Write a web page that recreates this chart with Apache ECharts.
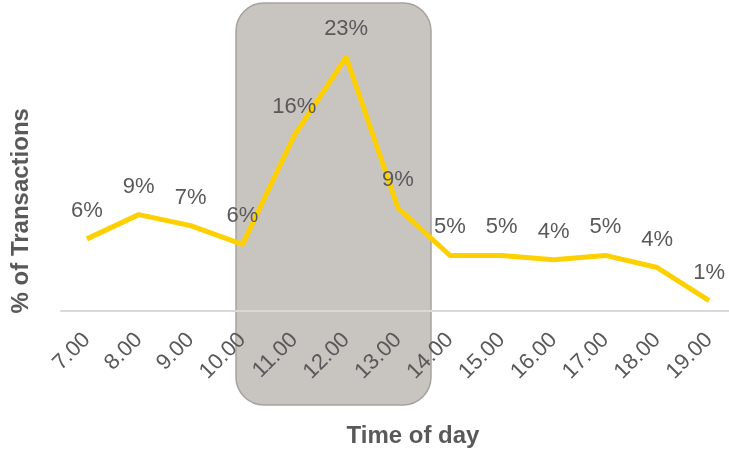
<!DOCTYPE html>
<html>
<head>
<meta charset="utf-8">
<script src="https://cdn.jsdelivr.net/npm/echarts@6/dist/echarts.min.js"></script>
<style>
html,body{margin:0;padding:0;background:#fff;}
#chart{width:729px;height:450px;}
</style>
</head>
<body>
<div id="chart"></div>
<script>
const categories = ['7.00','8.00','9.00','10.00','11.00','12.00','13.00','14.00','15.00','16.00','17.00','18.00','19.00'];
const shareValues = [6.5, 8.7, 7.7, 6.0, 15.9, 23.0, 9.3, 5.0, 5.0, 4.6, 5.0, 3.9, 0.9];
const shareLabels = ['6%','9%','7%','6%','16%','23%','9%','5%','5%','4%','5%','4%','1%'];

const FONT = '"Liberation Sans", Arial, sans-serif';
const chart = echarts.init(document.getElementById('chart'), null, {renderer: 'canvas'});
chart.setOption({
  animation: false,
  backgroundColor: '#ffffff',
  grid: {left: 61, right: -6, top: 35, bottom: 139.5, containLabel: false, outerBoundsMode: 'none'},
  graphic: [{
    type: 'rect',
    z: -10,
    shape: {x: 236, y: 3, width: 195, height: 402, r: 28},
    style: {fill: '#c8c4c0', stroke: '#a6a29e', lineWidth: 1.5}
  }],
  xAxis: {
    type: 'category',
    data: categories,
    boundaryGap: true,
    name: 'Time of day',
    nameLocation: 'middle',
    nameGap: 114,
    nameMoveOverlap: false,
    nameTextStyle: {fontFamily: FONT, fontSize: 24, fontWeight: 'bold', color: '#595959', padding: [0, 0, 0, 30]},
    axisLine: {lineStyle: {color: '#d9d9d9', width: 2}},
    axisTick: {show: false},
    axisLabel: {interval: 0, rotate: 45, margin: 26, fontFamily: FONT, fontSize: 22, color: '#595959'},
    splitLine: {show: false}
  },
  yAxis: {
    type: 'value',
    min: 0,
    max: 25,
    name: '% of Transactions',
    nameLocation: 'middle',
    nameGap: 28,
    nameMoveOverlap: false,
    nameTextStyle: {fontFamily: FONT, fontSize: 24, fontWeight: 'bold', color: '#595959', padding: [0, 76, 0, 0]},
    axisLine: {show: false},
    axisTick: {show: false},
    axisLabel: {show: false},
    splitLine: {show: false}
  },
  series: [{
    type: 'line',
    data: shareValues,
    symbol: 'circle',
    symbolSize: 2,
    showSymbol: true,
    itemStyle: {color: 'rgba(0,0,0,0)'},
    lineStyle: {color: '#FFD000', width: 5},
    z: 5,
    label: {
      show: true,
      position: 'top',
      distance: 16,
      fontFamily: FONT,
      fontSize: 22,
      color: '#595959',
      formatter: p => shareLabels[p.dataIndex]
    }
  }]
});
</script>
</body>
</html>
